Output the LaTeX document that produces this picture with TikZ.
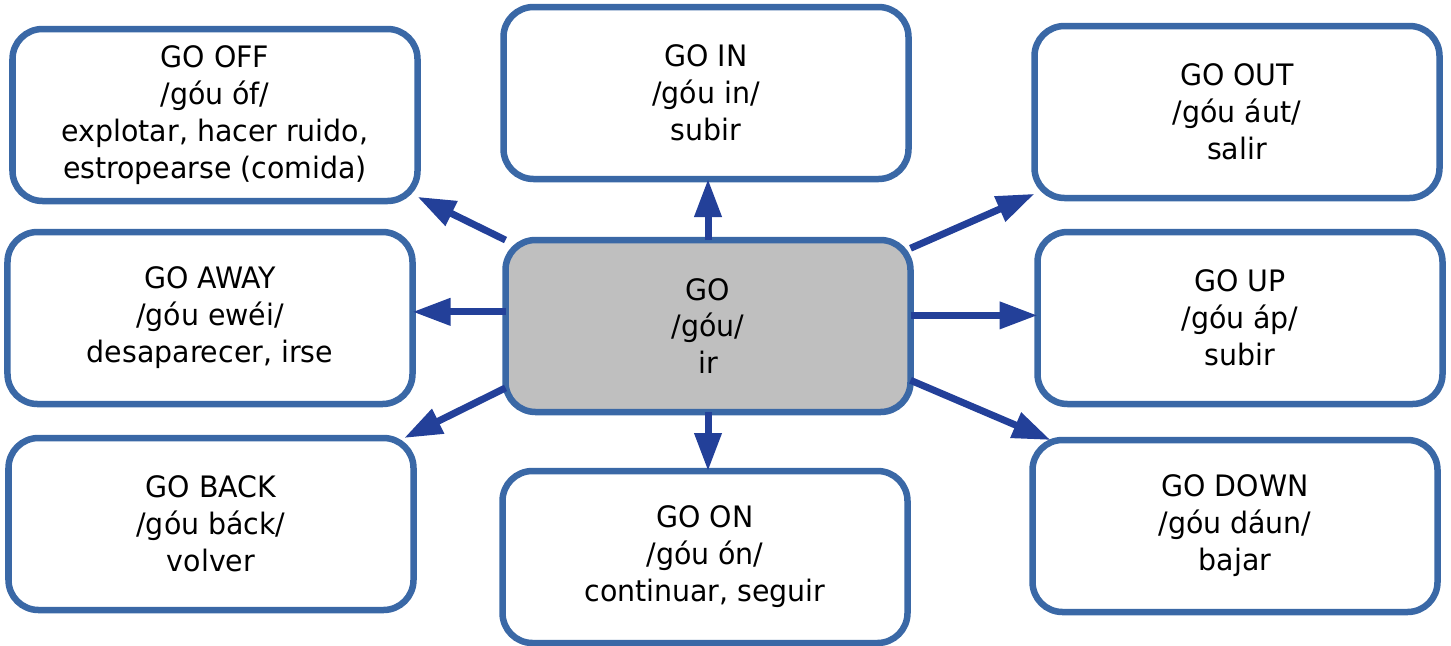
\documentclass[tikz,border=0pt]{standalone}
\usepackage{fontspec}
\setmainfont[FakeStretch=1.07]{DejaVu Sans Condensed}
\usetikzlibrary{arrows.meta}
\definecolor{boxblue}{RGB}{58,104,166}
\definecolor{arrowblue}{RGB}{35,64,153}
\definecolor{centregrey}{RGB}{191,191,191}
\tikzset{block/.style={draw=boxblue, line width=0.13cm, rounded corners=0.6cm, fill=white, minimum width=8.1cm, minimum height=3.44cm, align=center, outer sep=0pt, font=\fontsize{16.8}{21}\selectfont},
line/.style={arrowblue, line width=0.14cm, -{Triangle[length=0.76cm,width=0.52cm]}}
}

\begin{document}
\begin{tikzpicture}
    \useasboundingbox (0,0) rectangle (29.02,-12.9);
    % Nodes
    \node [block, fill=centregrey] (go) at (14.16,-6.52) {GO\\/góu/\\ir};
    \node [block] (gooff) at (4.30,-2.30) {GO OFF\\/góu óf/\\explotar, hacer ruido,\\estropearse (comida)};
    \node [block] (goin) at (14.12,-1.86) {GO IN\\/góu in/\\subir};
    \node [block] (goout) at (24.74,-2.24) {GO OUT\\/góu áut/\\salir};
    \node [block] (goaway) at (4.20,-6.36) {GO AWAY\\/góu ewéi/\\desaparecer, irse};
    \node [block] (goup) at (24.80,-6.36) {GO UP\\/góu áp/\\subir};
    \node [block] (goback) at (4.22,-10.48) {GO BACK\\/góu báck/\\volver};
    \node [block] (goon) at (14.10,-11.14) {GO ON\\/góu ón/\\continuar, seguir};
    \node [block] (godown) at (24.70,-10.52) {GO DOWN\\/góu dáun/\\bajar};
    % Arrows
    \draw [line] (go.north) -- (go.north |- goin.south);
    \draw [line] (go.157) -- (gooff.-22);
    \draw [line] (go.176) -- (go.176 -| goaway.east);
    \draw [line] (go.197) -- (goback.24);
    \draw [line] (go.south) -- (go.south |- goon.north);
    \draw [line] (go.21) -- (goout.202);
    \draw [line] (go.3) -- (go.3 -| goup.west);
    \draw [line] (go.-15) -- (godown.155);
\end{tikzpicture}
\end{document}
